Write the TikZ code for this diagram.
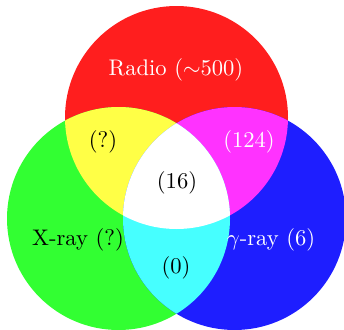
\documentclass[tikz,border=0pt]{standalone}
\usepackage{amsmath,amssymb}
\usepackage{tikz}
\usetikzlibrary{positioning}
\definecolor{cred}{RGB}{255,30,30}
\definecolor{cgreen}{RGB}{50,255,50}
\definecolor{cblue}{RGB}{30,30,255}
\definecolor{cyel}{RGB}{255,255,70}
\definecolor{cmag}{RGB}{255,50,255}
\definecolor{ccyan}{RGB}{70,255,255}
\begin{document}
\begin{tikzpicture}[
    x=0.443pt,y=-0.443pt,
    lbl/.style={font=\normalsize,inner sep=1pt},
    lblw/.style={lbl,text=white}
  ]
    \useasboundingbox (0,0) rectangle (344,329);
    \def\rad{111.5}
    \coordinate (cr) at (176.5,117.5);
    \coordinate (cg) at (118.5,218.5);
    \coordinate (cb) at (234.5,218.5);
    % the three sets
    \fill[cred] (cr) circle (\rad);
    \fill[cgreen] (cg) circle (\rad);
    \fill[cblue] (cb) circle (\rad);
    % overlaps
    \begin{scope}
      \clip (cr) circle (\rad);
      \fill[cyel] (cg) circle (\rad);
      \fill[cmag] (cb) circle (\rad);
    \end{scope}
    \begin{scope}
      \clip (cg) circle (\rad);
      \fill[ccyan] (cb) circle (\rad);
      \clip (cr) circle (\rad);
      \fill[white] (cb) circle (\rad);
    \end{scope}
    % labels
    \node[lblw] (radio) at (176,70) {Radio ($\sim$500)};
    \node[lbl] (rx) at (103,142) {(?)};
    \node[lblw] (rg) at (249,142) {(124)};
    \node[lbl] (all) at (177,183) {(16)};
    \node[lbl] (xray) at (78,240) {X-ray (?)};
    \node[lblw] (gamma) at (271,240) {$\gamma$-ray (6)};
    \node[lbl] (xg) at (176,268) {(0)};
  \end{tikzpicture}
\end{document}
